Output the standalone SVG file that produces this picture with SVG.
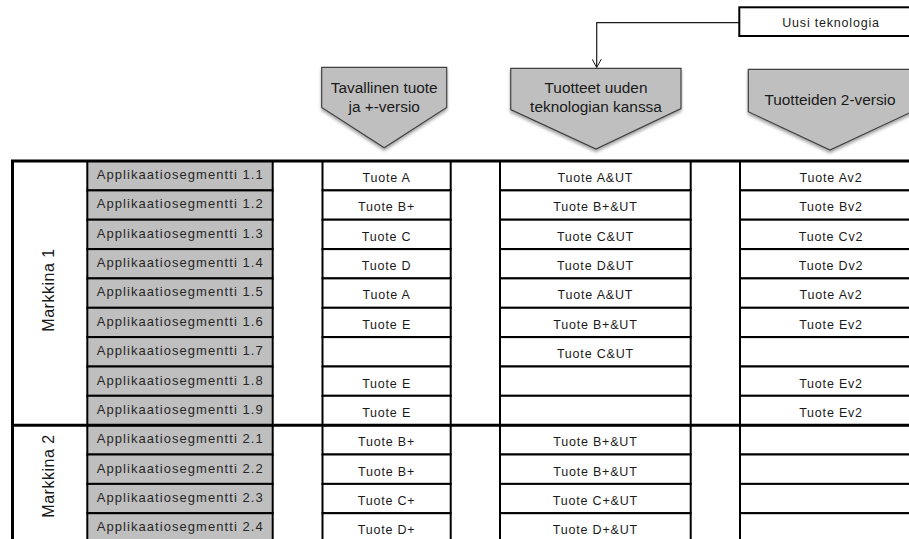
<svg xmlns="http://www.w3.org/2000/svg" width="909" height="539" viewBox="0 0 909 539">
<style>
.seg{fill:#bfbfbf;stroke:#000;stroke-width:2}
.cell{fill:#fff;stroke:#000;stroke-width:2}
.hdr{fill:#bfbfbf;stroke:#404040;stroke-width:1.2}
.frame{stroke:#000;stroke-width:3;fill:none}
.lt{font-family:"Liberation Sans",Arial,sans-serif;font-size:13px;fill:#262626}
.pt{font-family:"Liberation Sans",Arial,sans-serif;font-size:12.5px;letter-spacing:0.8px;fill:#1a1a1a;text-anchor:middle}
.ht{font-family:"Liberation Sans",Arial,sans-serif;font-size:15.4px;fill:#1a1a1a;text-anchor:middle}
.mt{font-family:"Liberation Sans",Arial,sans-serif;font-size:16px;letter-spacing:0.5px;fill:#1a1a1a;text-anchor:middle}
.conn{fill:none;stroke:#1a1a1a;stroke-width:1.2}
</style>
<defs>
<marker id="open" viewBox="0 0 12 12" refX="11" refY="6" markerWidth="10" markerHeight="10" markerUnits="userSpaceOnUse" orient="auto">
<path d="M1,0.5 L11,6 L1,11.5" fill="none" stroke="#1a1a1a" stroke-width="1.2"/>
</marker>
<filter id="sh" x="-10%" y="-10%" width="120%" height="130%">
<feDropShadow dx="0" dy="2.5" stdDeviation="1.8" flood-color="#000" flood-opacity="0.35"/>
</filter>
</defs>
<rect width="909" height="539" fill="#fff"/>

<g id="connectors">
<path class="conn" d="M739.3,22.7 H596.7 V67.5" marker-end="url(#open)"/>
</g>

<g id="uusi-teknologia">
<rect x="739.3" y="7.3" width="200" height="28.7" fill="#fff" stroke="#000" stroke-width="2"/>
<text class="pt" x="831" y="26.5">Uusi teknologia</text>
</g>

<g id="hdr-tavallinen">
<polygon class="hdr" filter="url(#sh)" points="321.7,67.3 446.7,67.3 446.7,107.5 384.2,147.7 321.7,107.5"/>
<text class="ht" x="384.2" y="92.7">Tavallinen tuote</text>
<text class="ht" x="384.2" y="111.7">ja +-versio</text>
</g>
<g id="hdr-uusi">
<polygon class="hdr" filter="url(#sh)" points="510.7,68.3 681,68.3 681,108.5 596,149 510.7,109.5"/>
<text class="ht" x="596" y="92.7">Tuotteet uuden</text>
<text class="ht" x="596" y="111.7">teknologian kanssa</text>
</g>
<g id="hdr-v2">
<polygon class="hdr" filter="url(#sh)" points="748.3,69.3 912,69.3 912,111.7 830,150 748.3,111.7"/>
<text class="ht" x="830" y="104.5">Tuotteiden 2-versio</text>
</g>

<g id="segments">
<g id="seg-1-1"><rect class="seg" x="87.3" y="161" width="185.4" height="29.4"/><text class="lt" x="96.7" y="179" textLength="166" lengthAdjust="spacing">Applikaatiosegmentti 1.1</text></g>
<g id="seg-1-2"><rect class="seg" x="87.3" y="190.4" width="185.4" height="29.3"/><text class="lt" x="96.7" y="208.4" textLength="166" lengthAdjust="spacing">Applikaatiosegmentti 1.2</text></g>
<g id="seg-1-3"><rect class="seg" x="87.3" y="219.7" width="185.4" height="29.4"/><text class="lt" x="96.7" y="237.7" textLength="166" lengthAdjust="spacing">Applikaatiosegmentti 1.3</text></g>
<g id="seg-1-4"><rect class="seg" x="87.3" y="249.1" width="185.4" height="29.3"/><text class="lt" x="96.7" y="267.1" textLength="166" lengthAdjust="spacing">Applikaatiosegmentti 1.4</text></g>
<g id="seg-1-5"><rect class="seg" x="87.3" y="278.4" width="185.4" height="29.4"/><text class="lt" x="96.7" y="296.4" textLength="166" lengthAdjust="spacing">Applikaatiosegmentti 1.5</text></g>
<g id="seg-1-6"><rect class="seg" x="87.3" y="307.8" width="185.4" height="29.3"/><text class="lt" x="96.7" y="325.8" textLength="166" lengthAdjust="spacing">Applikaatiosegmentti 1.6</text></g>
<g id="seg-1-7"><rect class="seg" x="87.3" y="337.1" width="185.4" height="29.4"/><text class="lt" x="96.7" y="355.1" textLength="166" lengthAdjust="spacing">Applikaatiosegmentti 1.7</text></g>
<g id="seg-1-8"><rect class="seg" x="87.3" y="366.5" width="185.4" height="29.3"/><text class="lt" x="96.7" y="384.5" textLength="166" lengthAdjust="spacing">Applikaatiosegmentti 1.8</text></g>
<g id="seg-1-9"><rect class="seg" x="87.3" y="395.8" width="185.4" height="29.4"/><text class="lt" x="96.7" y="413.8" textLength="166" lengthAdjust="spacing">Applikaatiosegmentti 1.9</text></g>
<g id="seg-2-1"><rect class="seg" x="87.3" y="425.2" width="185.4" height="29.3"/><text class="lt" x="96.7" y="443.2" textLength="166" lengthAdjust="spacing">Applikaatiosegmentti 2.1</text></g>
<g id="seg-2-2"><rect class="seg" x="87.3" y="454.5" width="185.4" height="29.4"/><text class="lt" x="96.7" y="472.5" textLength="166" lengthAdjust="spacing">Applikaatiosegmentti 2.2</text></g>
<g id="seg-2-3"><rect class="seg" x="87.3" y="483.9" width="185.4" height="29.3"/><text class="lt" x="96.7" y="501.9" textLength="166" lengthAdjust="spacing">Applikaatiosegmentti 2.3</text></g>
<g id="seg-2-4"><rect class="seg" x="87.3" y="513.2" width="185.4" height="29.4"/><text class="lt" x="96.7" y="531.2" textLength="166" lengthAdjust="spacing">Applikaatiosegmentti 2.4</text></g>
</g>

<g id="col-tavallinen">
<g id="c1-r1"><rect class="cell" x="322.5" y="161" width="128.2" height="29.4"/><text class="pt" x="386.6" y="182">Tuote A</text></g>
<g id="c1-r2"><rect class="cell" x="322.5" y="190.4" width="128.2" height="29.3"/><text class="pt" x="386.6" y="211.4">Tuote B+</text></g>
<g id="c1-r3"><rect class="cell" x="322.5" y="219.7" width="128.2" height="29.4"/><text class="pt" x="386.6" y="240.7">Tuote C</text></g>
<g id="c1-r4"><rect class="cell" x="322.5" y="249.1" width="128.2" height="29.3"/><text class="pt" x="386.6" y="270.1">Tuote D</text></g>
<g id="c1-r5"><rect class="cell" x="322.5" y="278.4" width="128.2" height="29.4"/><text class="pt" x="386.6" y="299.4">Tuote A</text></g>
<g id="c1-r6"><rect class="cell" x="322.5" y="307.8" width="128.2" height="29.3"/><text class="pt" x="386.6" y="328.8">Tuote E</text></g>
<g id="c1-r7"><rect class="cell" x="322.5" y="337.1" width="128.2" height="29.4"/></g>
<g id="c1-r8"><rect class="cell" x="322.5" y="366.5" width="128.2" height="29.3"/><text class="pt" x="386.6" y="387.5">Tuote E</text></g>
<g id="c1-r9"><rect class="cell" x="322.5" y="395.8" width="128.2" height="29.4"/><text class="pt" x="386.6" y="416.8">Tuote E</text></g>
<g id="c1-r10"><rect class="cell" x="322.5" y="425.2" width="128.2" height="29.3"/><text class="pt" x="386.6" y="446.2">Tuote B+</text></g>
<g id="c1-r11"><rect class="cell" x="322.5" y="454.5" width="128.2" height="29.4"/><text class="pt" x="386.6" y="475.5">Tuote B+</text></g>
<g id="c1-r12"><rect class="cell" x="322.5" y="483.9" width="128.2" height="29.3"/><text class="pt" x="386.6" y="504.9">Tuote C+</text></g>
<g id="c1-r13"><rect class="cell" x="322.5" y="513.2" width="128.2" height="29.4"/><text class="pt" x="386.6" y="534.2">Tuote D+</text></g>
</g>

<g id="col-uusi">
<g id="c2-r1"><rect class="cell" x="500" y="161" width="190.7" height="29.4"/><text class="pt" x="595.4" y="182">Tuote A&amp;UT</text></g>
<g id="c2-r2"><rect class="cell" x="500" y="190.4" width="190.7" height="29.3"/><text class="pt" x="595.4" y="211.4">Tuote B+&amp;UT</text></g>
<g id="c2-r3"><rect class="cell" x="500" y="219.7" width="190.7" height="29.4"/><text class="pt" x="595.4" y="240.7">Tuote C&amp;UT</text></g>
<g id="c2-r4"><rect class="cell" x="500" y="249.1" width="190.7" height="29.3"/><text class="pt" x="595.4" y="270.1">Tuote D&amp;UT</text></g>
<g id="c2-r5"><rect class="cell" x="500" y="278.4" width="190.7" height="29.4"/><text class="pt" x="595.4" y="299.4">Tuote A&amp;UT</text></g>
<g id="c2-r6"><rect class="cell" x="500" y="307.8" width="190.7" height="29.3"/><text class="pt" x="595.4" y="328.8">Tuote B+&amp;UT</text></g>
<g id="c2-r7"><rect class="cell" x="500" y="337.1" width="190.7" height="29.4"/><text class="pt" x="595.4" y="358.1">Tuote C&amp;UT</text></g>
<g id="c2-r8"><rect class="cell" x="500" y="366.5" width="190.7" height="29.3"/></g>
<g id="c2-r9"><rect class="cell" x="500" y="395.8" width="190.7" height="29.4"/></g>
<g id="c2-r10"><rect class="cell" x="500" y="425.2" width="190.7" height="29.3"/><text class="pt" x="595.4" y="446.2">Tuote B+&amp;UT</text></g>
<g id="c2-r11"><rect class="cell" x="500" y="454.5" width="190.7" height="29.4"/><text class="pt" x="595.4" y="475.5">Tuote B+&amp;UT</text></g>
<g id="c2-r12"><rect class="cell" x="500" y="483.9" width="190.7" height="29.3"/><text class="pt" x="595.4" y="504.9">Tuote C+&amp;UT</text></g>
<g id="c2-r13"><rect class="cell" x="500" y="513.2" width="190.7" height="29.4"/><text class="pt" x="595.4" y="534.2">Tuote D+&amp;UT</text></g>
</g>

<g id="col-v2">
<g id="c3-r1"><rect class="cell" x="740" y="161" width="180" height="29.4"/><text class="pt" x="831" y="182">Tuote Av2</text></g>
<g id="c3-r2"><rect class="cell" x="740" y="190.4" width="180" height="29.3"/><text class="pt" x="831" y="211.4">Tuote Bv2</text></g>
<g id="c3-r3"><rect class="cell" x="740" y="219.7" width="180" height="29.4"/><text class="pt" x="831" y="240.7">Tuote Cv2</text></g>
<g id="c3-r4"><rect class="cell" x="740" y="249.1" width="180" height="29.3"/><text class="pt" x="831" y="270.1">Tuote Dv2</text></g>
<g id="c3-r5"><rect class="cell" x="740" y="278.4" width="180" height="29.4"/><text class="pt" x="831" y="299.4">Tuote Av2</text></g>
<g id="c3-r6"><rect class="cell" x="740" y="307.8" width="180" height="29.3"/><text class="pt" x="831" y="328.8">Tuote Ev2</text></g>
<g id="c3-r7"><rect class="cell" x="740" y="337.1" width="180" height="29.4"/></g>
<g id="c3-r8"><rect class="cell" x="740" y="366.5" width="180" height="29.3"/><text class="pt" x="831" y="387.5">Tuote Ev2</text></g>
<g id="c3-r9"><rect class="cell" x="740" y="395.8" width="180" height="29.4"/><text class="pt" x="831" y="416.8">Tuote Ev2</text></g>
<g id="c3-r10"><rect class="cell" x="740" y="425.2" width="180" height="29.3"/></g>
<g id="c3-r11"><rect class="cell" x="740" y="454.5" width="180" height="29.4"/></g>
<g id="c3-r12"><rect class="cell" x="740" y="483.9" width="180" height="29.3"/></g>
<g id="c3-r13"><rect class="cell" x="740" y="513.2" width="180" height="29.4"/></g>
</g>

<g id="frame">
<path class="frame" d="M12.5,545 V161 H909"/>
<path class="frame" d="M12.5,425.2 H909"/>
</g>

<g id="markkina-1"><text class="mt" transform="translate(54,290) rotate(-90)">Markkina 1</text></g>
<g id="markkina-2"><text class="mt" transform="translate(54,476) rotate(-90)">Markkina 2</text></g>
</svg>
